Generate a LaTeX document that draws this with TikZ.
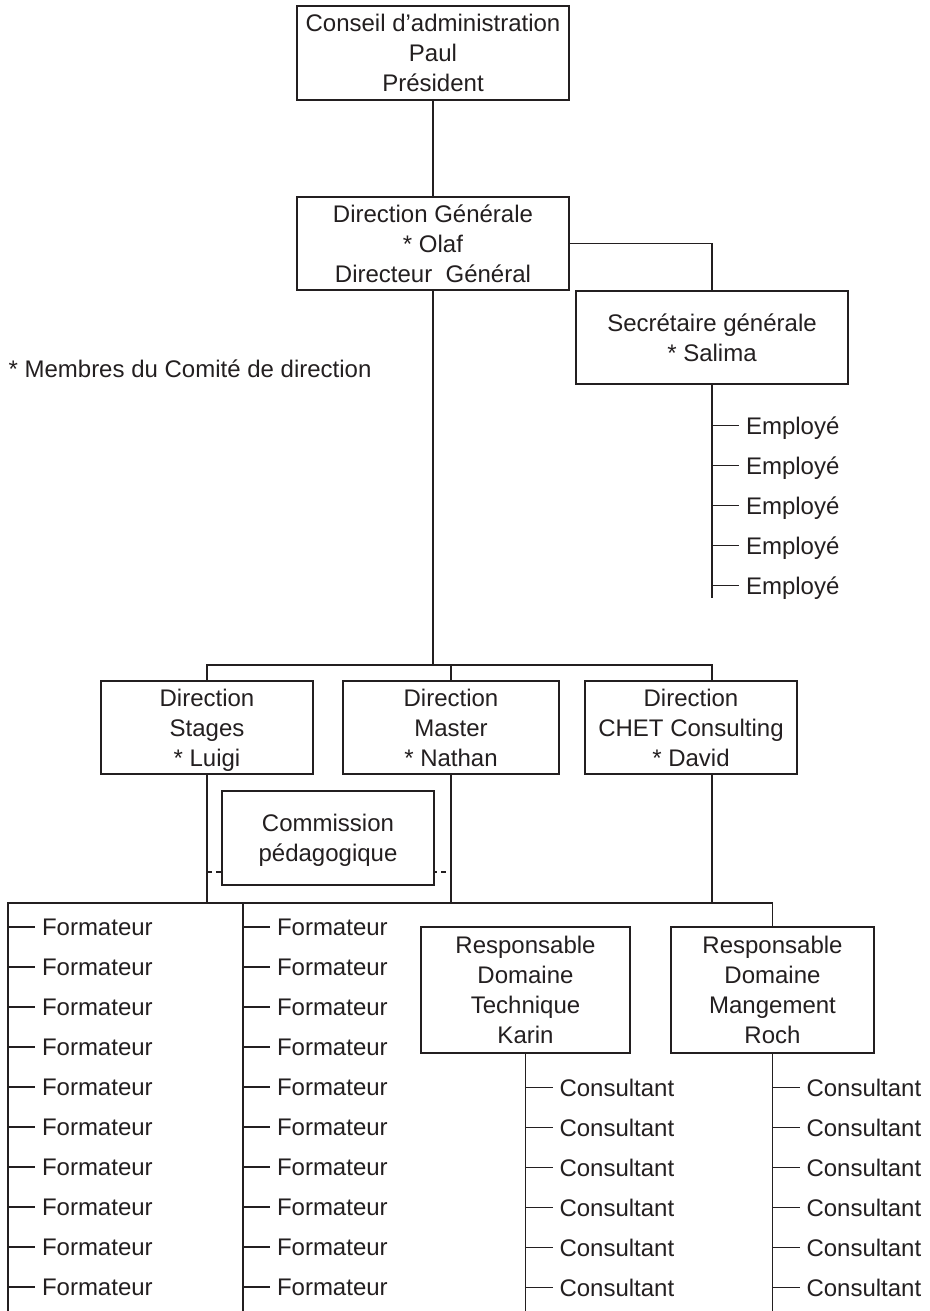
\documentclass[tikz,border=0pt]{standalone}
\usepackage{fontspec}
\setmainfont{Liberation Sans}
\usepackage{tikz}
\usetikzlibrary{positioning}

\definecolor{ink}{HTML}{231F20}

\begin{document}
\begin{tikzpicture}[x=1pt,y=-1pt,line width=1.2pt,color=ink,
	txt/.style={font=\fontsize{24}{30}\selectfont},
	box/.style={txt,draw,fill=white,align=center,inner sep=0pt,text depth=0pt},
	leaf/.style={txt,anchor=west,inner xsep=0pt,inner ysep=0pt,outer xsep=7pt,
		text height=17pt,text depth=0pt},
	dashline/.style={dash pattern=on 5pt off 4pt}]

	\useasboundingbox (0,0) rectangle (929,1311);

	% boxes
	\node[box,minimum width=272pt,minimum height=94pt] (conseil) at (433,53)
		{Conseil d’administration\\Paul\\Président};
	\node[box,minimum width=272pt,minimum height=93pt] (dg) at (433,243.5)
		{Direction Générale\\* Olaf\\Directeur~ Général};
	\node[box,minimum width=272pt,minimum height=93pt] (sg) at (712,337.5)
		{Secrétaire générale\\* Salima};
	\node[txt,anchor=base west,inner sep=0pt] (membres) at (8,377)
		{* Membres du Comité de direction};
	\node[box,minimum width=212pt,minimum height=93pt] (stages) at (207,727.5)
		{Direction\\Stages\\* Luigi};
	\node[box,minimum width=216pt,minimum height=93pt] (master) at (451,727.5)
		{Direction\\Master\\* Nathan};
	\node[box,minimum width=212pt,minimum height=93pt] (chet) at (691,727.5)
		{Direction\\CHET Consulting\\* David};
	\node[box,minimum width=209pt,minimum height=126pt] (technique) at (525.5,990)
		{Responsable\\Domaine\\Technique\\Karin};
	\node[box,minimum width=203pt,minimum height=126pt] (mangement) at (772.5,990)
		{Responsable\\Domaine\\Mangement\\Roch};

	% branching points
	\coordinate (fork) at (433,665);
	\coordinate (chetin) at (712,681);
	\coordinate (sgend) at (712,598);
	\coordinate (fa) at (8,903);
	\coordinate (fb) at (243,903);
	\coordinate (faend) at (8,1311);
	\coordinate (fbend) at (243,1311);
	\coordinate (pedaline) at (328,872);

	% connectors
	\draw (conseil) -- (dg);
	\draw (dg.east) -| (sg.north);
	\draw (sg.south) -- (sgend);
	\draw (dg.south) -- (fork);
	\draw (stages.north) |- (fork) -| (master.north);
	\draw (fork) -| (chetin);
	\draw (stages.south) -- (stages.south |- fa);
	\draw (master.south) -- (master.south |- fa);
	\draw (chetin |- chet.south) -- (chetin |- fa);
	\draw (faend) -- (fa) -| (mangement.north);
	\draw (fb) -- (fbend);
	\draw (technique.south) -- (technique.south |- faend);
	\draw (mangement.south) -- (mangement.south |- faend);

	% commission sits over the dashed link
	\draw[dashline] (stages.south |- pedaline) -- (master.south |- pedaline);
	\node[box,minimum width=212pt,minimum height=94pt] (commission) at (328,838)
		{Commission\\pédagogique};

	% lists
	\foreach \i in {1,...,5} {
		\node[leaf] (emp\i) at ([shift={(27,1+40*\i)}]sg.south) {Employé};
		\draw (sg.south |- emp\i.west) -- (emp\i.west);
	}
	\foreach \i in {1,...,10} {
		\node[leaf] (fa\i) at ([shift={(27,-16+40*\i)}]fa) {Formateur};
		\draw (fa |- fa\i.west) -- (fa\i.west);
		\node[leaf] (fb\i) at ([shift={(27,-16+40*\i)}]fb) {Formateur};
		\draw (fb |- fb\i.west) -- (fb\i.west);
	}
	\foreach \i in {1,...,6} {
		\node[leaf] (tc\i) at ([shift={(27,-6+40*\i)}]technique.south) {Consultant};
		\draw (technique.south |- tc\i.west) -- (tc\i.west);
		\node[leaf] (mc\i) at ([shift={(27,-6+40*\i)}]mangement.south) {Consultant};
		\draw (mangement.south |- mc\i.west) -- (mc\i.west);
	}
\end{tikzpicture}
\end{document}
